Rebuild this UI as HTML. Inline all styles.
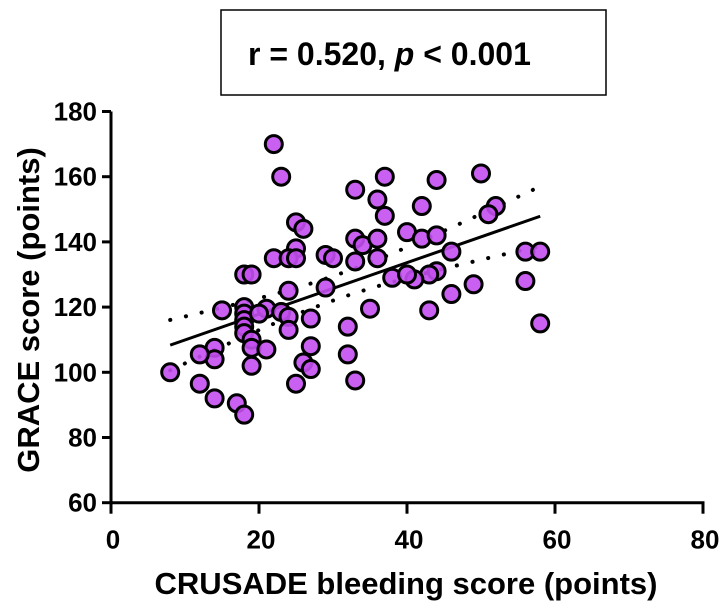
<!DOCTYPE html>
<html><head><meta charset="utf-8"><style>
html,body{margin:0;padding:0;background:#fff;}
svg{display:block;font-family:"Liberation Sans",Arial,sans-serif;}
</style></head><body>
<svg id="chart" width="720" height="608" viewBox="0 0 720 608" xmlns="http://www.w3.org/2000/svg">
<rect x="221" y="10" width="385" height="85" fill="#fff" stroke="#000" stroke-width="1.5"/>
<text x="248" y="65" font-size="32" font-weight="bold">r = 0.520, <tspan font-style="italic">p</tspan> &lt; 0.001</text>
<text transform="translate(39,310) rotate(-90)" text-anchor="middle" font-size="31" font-weight="bold">GRACE score (points)</text>
<text x="406" y="594" text-anchor="middle" font-size="31" font-weight="bold">CRUSADE bleeding score (points)</text>
<g id="axes"></g>
<g id="fit"></g>
<g id="pts"></g>
</svg>
<script>
const xTicks=[0,20,40,60,80];
const yTicks=[60,80,100,120,140,160,180];
const xs=[22,23,33,37,36,37,25,26,33,34,36,40,25,22,24,25,29,30,33,36,18,19,38,24,29,15,18,18,18,18,18,19,19,21,20,23,24,27,24,21,35,32,27,26,27,32,33,25,19,14,14,12,8,12,14,17,18,44,50,42,42,44,52,51,56,58,56,58,46,49,46,43,44,43,41,40];
const ys=[170,160,156,160,153,148,146,144,141,139,141,143,138,135,135,135,136,135,134,135,130,130,129,125,126,119,120,118,116,114,112,110,107.5,119.5,118,118.5,117,116.5,113,107,119.5,114,108,103,101,105.5,97.5,96.5,102,107.5,104,105.5,100,96.5,92,90.5,87,159,161,151,141,142,151,148.5,137,137,128,115,137,127,124,119,131,130,128.5,130];
const NS="http://www.w3.org/2000/svg";
const X=v=>111+v*7.4;
const Y=v=>502.7-(v-60)*3.26;
function mk(t,a,p){const e=document.createElementNS(NS,t);for(const k in a)e.setAttribute(k,a[k]);p.appendChild(e);return e;}
const ax=document.getElementById('axes');
let e=mk('line',{x1:111,y1:Y(180),x2:111,y2:Y(60)+1.5,stroke:'#000','stroke-width':3},ax);


e=mk('line',{x1:109.5,y1:Y(60),x2:X(80)+1.5,y2:Y(60),stroke:'#000','stroke-width':3},ax);


yTicks.forEach(v=>{
 const t=mk('line',{x1:102,y1:Y(v),x2:111,y2:Y(v),stroke:'#000','stroke-width':3},ax);
 
 
 const l=mk('text',{x:97,y:Y(v)+9,'text-anchor':'end','font-size':26,'font-weight':'bold'},ax);
 l.textContent=v;
 
 
});
xTicks.forEach(v=>{
 const t=mk('line',{x1:X(v),y1:Y(60),x2:X(v),y2:Y(60)+11,stroke:'#000','stroke-width':3},ax);
 
 
 const l=mk('text',{x:X(v)+2,y:Y(60)+46,'text-anchor':'middle','font-size':26,'font-weight':'bold'},ax);
 l.textContent=v;
 
 
});
const n=xs.length;const mx=xs.reduce((a,b)=>a+b)/n,my=ys.reduce((a,b)=>a+b)/n;
let sxx=0,sxy=0;for(let i=0;i<n;i++){sxx+=(xs[i]-mx)**2;sxy+=(xs[i]-mx)*(ys[i]-my);}
const b=sxy/sxx,a=my-b*mx;let sse=0;for(let i=0;i<n;i++)sse+=(ys[i]-a-b*xs[i])**2;
const s=Math.sqrt(sse/(n-2));
const xmin=Math.min(...xs),xmax=Math.max(...xs);
const fg=document.getElementById('fit');
e=mk('line',{x1:X(xmin),y1:Y(a+b*xmin),x2:X(xmax),y2:Y(a+b*xmax),stroke:'#000','stroke-width':3},fg);


[1,-1].forEach(sg=>{
 let d='';for(let k=0;k<=50;k++){const x=xmin+(xmax-xmin)*k/50;const yv=a+b*x+sg*1.99*s*Math.sqrt(1/n+(x-mx)**2/sxx);d+=(k?'L':'M')+X(x).toFixed(1)+','+Y(yv).toFixed(1);}
 const p=mk('path',{d:d,fill:'none',stroke:'#000','stroke-width':4,'stroke-dasharray':'0.1 16','stroke-linecap':'round'},fg);
 
 
});
const pg=document.getElementById('pts');
for(let i=0;i<n;i++){
 const c=mk('circle',{cx:X(xs[i]),cy:Y(ys[i]),r:8.5,fill:'#c34ff0','fill-opacity':0.9,stroke:'#000','stroke-width':3},pg);
 
 
}
</script>
</body></html>
